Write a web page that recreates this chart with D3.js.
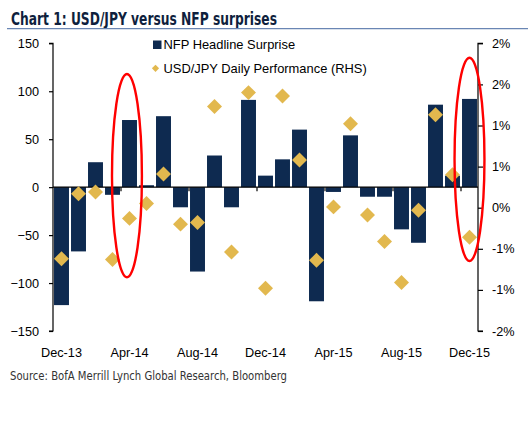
<!DOCTYPE html>
<html><head><meta charset="utf-8">
<script src="https://cdn.jsdelivr.net/npm/d3@7"></script>
<style>body{margin:0;background:#fff}svg{display:block}</style>
</head><body><svg id="c" width="528" height="426"></svg>
<script>
const months = ["Dec-13","Jan-14","Feb-14","Mar-14","Apr-14","May-14","Jun-14","Jul-14","Aug-14","Sep-14","Oct-14","Nov-14","Dec-14","Jan-15","Feb-15","Mar-15","Apr-15","May-15","Jun-15","Jul-15","Aug-15","Sep-15","Oct-15","Nov-15","Dec-15"];
const nfpSurprise = [-123,-67,26,-8,70,2,74,-21,-88,33,-21,91,12,29,60,-119,-5,54,-10,-10,-44,-58,86,12,92];
const usdjpyPerf = [-0.62,0.17,0.19,-0.63,-0.13,0.05,0.41,-0.20,-0.18,1.23,-0.54,1.40,-0.98,1.36,0.58,-0.64,0.01,1.02,-0.09,-0.41,-0.91,-0.03,1.13,0.40,-0.36];
const leftTicks = [-150,-100,-50,0,50,100,150];
const rightTicks = [-1.5,-1,-0.5,0,0.5,1,1.5,2];
const xLabels = ["Dec-13","Apr-14","Aug-14","Dec-14","Apr-15","Aug-15","Dec-15"];
const highlights = [{m:"Apr-14", top:118, bottom:-94, shift:-0.15},{m:"Dec-15", top:135, bottom:-77, shift:0}];

const svg = d3.select("#c");
const L = 53, R = 478, T = 43.3, B = 331;
const NAVY = "#0e2a50", GOLD = "#e2b84e";
const FONT = "'Liberation Sans', Arial, sans-serif";

const x = d3.scaleBand().domain(months).range([L, R]).padding(0);
const yL = d3.scaleLinear().domain([-150,150]).range([B, T]);
const yR = d3.scaleLinear().domain([-1.5,2]).range([B, T]);
const bw = x.bandwidth();

// title
svg.append("text").attr("x",11).attr("y",24.5)
  .attr("font-family","'Liberation Sans Narrow', 'DejaVu Sans Condensed', sans-serif")
  .attr("font-weight","bold").attr("font-size",17.5).attr("fill","#0f1f3d")
  .attr("textLength",266).attr("lengthAdjust","spacingAndGlyphs")
  .text("Chart 1: USD/JPY versus NFP surprises");
svg.append("line").attr("x1",7).attr("x2",528).attr("y1",28.6).attr("y2",28.6)
  .attr("stroke","#6a86b4").attr("stroke-width",1.4);

// bars
svg.append("g").selectAll("rect").data(months).join("rect")
  .attr("x", (m)=> x(m) + bw*0.06)
  .attr("width", bw*0.88)
  .attr("y", (m,i)=> yL(Math.max(0,nfpSurprise[i])))
  .attr("height", (m,i)=> Math.abs(yL(nfpSurprise[i]) - yL(0)))
  .attr("fill", NAVY);

// left axis
const axL = d3.axisLeft(yL).tickValues(leftTicks).tickSize(4).tickPadding(10).tickFormat(d3.format("d"));
const gL = svg.append("g").attr("transform",`translate(${L},0)`).call(axL);
// right axis
const fmtR = v => (v<0?"-":"") + Math.round(Math.abs(v)+1e-9) + "%";
const axR = d3.axisRight(yR).tickValues(rightTicks).tickSize(5).tickPadding(9).tickFormat(fmtR);
const gR = svg.append("g").attr("transform",`translate(${R},0)`).call(axR);
[gL,gR].forEach(g=>{
  g.select(".domain").attr("stroke","#000").attr("stroke-width",1.2);
  g.selectAll(".tick line").attr("stroke","#000").attr("stroke-width",1.2);
  g.selectAll("text").attr("font-family",FONT).attr("font-size",12.7).attr("fill","#000");
});
gR.select(".domain").attr("d",`M5,${B}H0V${T}H5`);
gL.select(".domain").attr("d",`M-4,${T}H0V${B}H-4`);

// x axis at zero
const y0 = yL(0);
svg.append("line").attr("x1",L).attr("x2",R).attr("y1",y0).attr("y2",y0).attr("stroke","#000").attr("stroke-width",1.2);
svg.append("g").selectAll("line").data(months.filter((m,i)=>i>0 && i%4===0)).join("line")
  .attr("x1",m=>x(m)).attr("x2",m=>x(m)).attr("y1",y0).attr("y2",y0+4)
  .attr("stroke","#000").attr("stroke-width",1.2);
svg.append("g").selectAll("text").data(xLabels).join("text")
  .attr("x",m=>x(m)+bw/2).attr("y",356.5).attr("text-anchor","middle")
  .attr("font-family",FONT).attr("font-size",12.7).attr("fill","#000").text(m=>m);

// diamonds
const dia = d3.symbol(d3.symbolSquare).size(112)();
svg.append("g").selectAll("path").data(months).join("path")
  .attr("d",dia)
  .attr("transform",(m,i)=>`translate(${x(m)+bw/2},${yR(usdjpyPerf[i])}) rotate(45)`)
  .attr("fill",GOLD);

// highlight ellipses
svg.append("g").selectAll("ellipse").data(highlights).join("ellipse")
  .attr("cx",h=>x(h.m)+bw/2+h.shift*bw)
  .attr("cy",h=>(yL(h.top)+yL(h.bottom))/2)
  .attr("rx",bw*0.88)
  .attr("ry",h=>(yL(h.bottom)-yL(h.top))/2)
  .attr("fill","none").attr("stroke","#ff0000").attr("stroke-width",2.4);

// legend
svg.append("rect").attr("x",153).attr("y",40.5).attr("width",8.5).attr("height",8.5).attr("fill",NAVY);
svg.append("text").attr("x",163.5).attr("y",49).attr("font-family",FONT).attr("font-size",12.9)
  .attr("fill","#000").text("NFP Headline Surprise");
svg.append("path").attr("d",d3.symbol(d3.symbolSquare).size(26)())
  .attr("transform","translate(155.5,68.3) rotate(45)").attr("fill",GOLD);
svg.append("text").attr("x",163.5).attr("y",72.5).attr("font-family",FONT).attr("font-size",12.9)
  .attr("fill","#000").text("USD/JPY Daily Performance (RHS)");

// source
svg.append("text").attr("x",10).attr("y",380)
  .attr("font-family","'Liberation Sans Narrow', 'DejaVu Sans Condensed', sans-serif")
  .attr("font-size",12).attr("fill","#333")
  .attr("textLength",277).attr("lengthAdjust","spacingAndGlyphs")
  .text("Source: BofA Merrill Lynch Global Research, Bloomberg");
</script></body></html>
